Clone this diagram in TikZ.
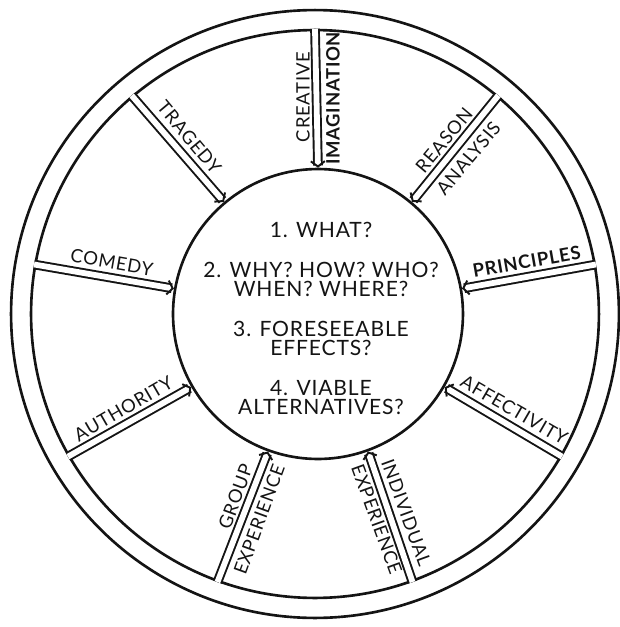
\documentclass[tikz,border=0pt]{standalone}
\usepackage{fontspec}
\setmainfont{Lato}
\usepackage{tikz}
\usetikzlibrary{arrows.meta,calc}
\definecolor{cInk}{HTML}{141414}
\tikzset{
  wh/ring/.style ={draw=cInk, line width=1.5pt, circle, inner sep=0pt},
  wh/hub/.style  ={wh/ring, minimum size=5.8cm},
  wh/qs/.style   ={align=center, text=cInk, inner sep=0pt,
                   font=\fontsize{12}{10.8}\selectfont\addfontfeature{LetterSpace=4}},
  wh/spoke/.style={draw=cInk, line width=1.1pt, double=white, double distance=3.3pt,
                   -{Straight Barb[length=3pt, width=8pt]}},
  wh/lbl/.style  ={font=\fontsize{10.5}{12}\selectfont\addfontfeature{LetterSpace=4},
                   inner sep=4.5pt, text=cInk},
  wh/up/.style   ={wh/lbl, anchor=south},
  wh/dn/.style   ={wh/lbl, anchor=north}
}

\begin{document}
\begin{tikzpicture}[x=0.02cm, y=0.02cm]
  \useasboundingbox (-318,-313) rectangle (302,314);

  % --- rim (double ring) ---
  \node[wh/ring, minimum size=12.16cm] (rimout) at (-3,0) {};
  \node[wh/ring, minimum size=11.36cm] (rim) at (-3,0) {};

  % --- hub with the questions ---
  \node[wh/hub] (hub) at (0,0) {};
  \node[wh/qs] (qs) at (3,-4.5)
       {1. WHAT?\\[12pt]
        2. WHY? HOW? WHO?\\WHEN? WHERE?\\[12pt]
        3. FORESEEABLE\\EFFECTS?\\[12pt]
        4. VIABLE\\ALTERNATIVES?};

  % --- spokes, pointing into the hub ---
  \foreach \a/\rot/\txt/\r in {10/10/\textbf{PRINCIPLES}/215, 50/50/REASON/214,
      90/90/CREATIVE/217, 130/-50/TRAGEDY/218, 170/-10/COMEDY/212,
      210/30/AUTHORITY/216, 250/70/GROUP/200, 290/-70/INDIVIDUAL/217,
      330/-30/AFFECTIVITY/218}{
    \draw[wh/spoke] (rim.\a) -- (hub.\a);
    \node[wh/up, rotate=\rot] (lu\a) at (\a:\r) {\txt};
  }

  % --- second labels, on the other side of the spoke ---
  \foreach \a/\rot/\txt/\r in {50/50/ANALYSIS/216, 90/90/\textbf{IMAGINATION}/216,
      250/70/EXPERIENCE/213, 290/-70/EXPERIENCE/213}{
    \node[wh/dn, rotate=\rot] (ld\a) at (\a:\r) {\txt};
  }
\end{tikzpicture}
\end{document}
